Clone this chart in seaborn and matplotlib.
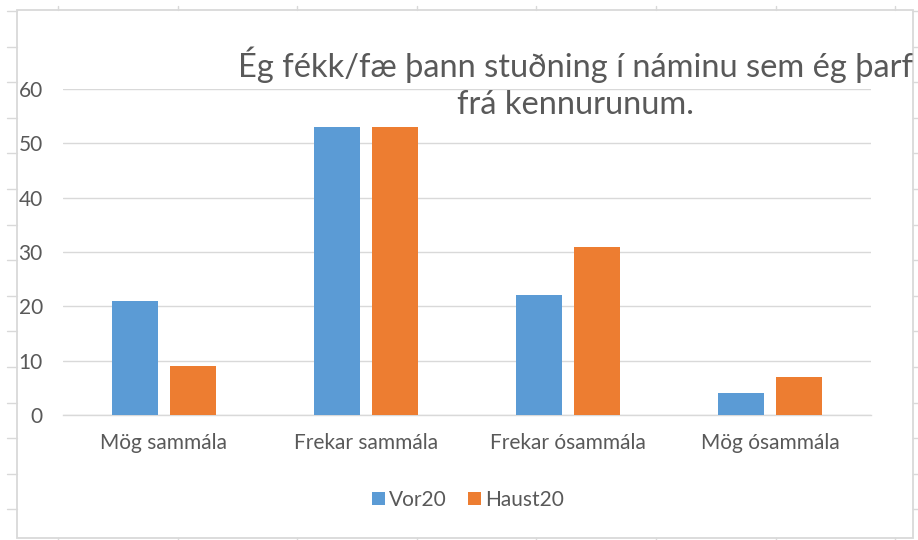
import matplotlib
matplotlib.use("Agg")
import matplotlib.pyplot as plt
from matplotlib.transforms import Bbox, TransformedBbox
from matplotlib.lines import Line2D
from matplotlib.patches import Rectangle
import seaborn as sns
import pandas as pd

categories = ["Mög sammála", "Frekar sammála", "Frekar ósammála", "Mög ósammála"]
series_names = ["Vor20", "Haust20"]
vor20 = [21, 53, 22, 4]
haust20 = [9, 53, 31, 7]
y_ticks = [0, 10, 20, 30, 40, 50, 60]
title = "Ég fékk/fæ þann stuðning í náminu sem ég þarf\nfrá kennurunum."

colors = ["#5B9BD5", "#ED7D31"]
text_color = "#595959"
grid_color = "#D9D9D9"

df = pd.DataFrame({
    "category": categories * 2,
    "series": [series_names[0]] * 4 + [series_names[1]] * 4,
    "value": vor20 + haust20,
})

sns.set_theme(style="white")
plt.rcParams["font.family"] = ["Lato", "DejaVu Sans"]

W, H = 918, 540
fig = plt.figure(figsize=(W / 100, H / 100), dpi=100)
fig.patch.set_facecolor("white")

def fx(px):
    return px / W

def fy(py):
    return 1 - py / H

# spreadsheet frame / cell grid hints
frame_l, frame_t, frame_r, frame_b = 17, 10, 913, 538
fig.add_artist(Rectangle((fx(frame_l), fy(frame_b)), fx(frame_r) - fx(frame_l),
                         fy(frame_t) - fy(frame_b), transform=fig.transFigure,
                         fill=False, edgecolor=grid_color, lw=1.3, zorder=0))
row_y = [11 + 35.6 * k for k in range(15)]
for yy in row_y:
    fig.add_artist(Line2D([fx(7), fx(frame_l)], [fy(yy), fy(yy)], transform=fig.transFigure,
                          color=grid_color, lw=1.0))
    fig.add_artist(Line2D([fx(frame_r), fx(918)], [fy(yy), fy(yy)], transform=fig.transFigure,
                          color=grid_color, lw=1.0))
col_x = [58 + 119.6 * k for k in range(8)]
for xx in col_x:
    fig.add_artist(Line2D([fx(xx), fx(xx)], [fy(6), fy(frame_t)], transform=fig.transFigure,
                          color=grid_color, lw=1.0))
    fig.add_artist(Line2D([fx(xx), fx(xx)], [fy(frame_b), fy(540)], transform=fig.transFigure,
                          color=grid_color, lw=1.0))

ax_l, ax_r, ax_t, ax_b = 63, 871, 89, 415
ax = fig.add_axes([fx(ax_l), fy(ax_b), fx(ax_r) - fx(ax_l), fy(ax_t) - fy(ax_b)])
ax.set_facecolor("none")

sns.barplot(data=df, x="category", y="value", hue="series", order=categories,
            hue_order=series_names, palette=colors, width=0.574, gap=0.223,
            linewidth=0, edgecolor="none", saturation=1, ax=ax, legend=True, zorder=3)

ax.set_xlim(-0.5, len(categories) - 0.5)
ax.set_ylim(0, 60)
ax.set_yticks(y_ticks)
ax.set_yticklabels([str(v) for v in y_ticks])
ax.yaxis.grid(True, color=grid_color, lw=1.0, zorder=0)
ax.set_axisbelow(True)
for s in ["left", "right", "top"]:
    ax.spines[s].set_visible(False)
ax.spines["bottom"].set_color(grid_color)
ax.spines["bottom"].set_linewidth(1.0)
ax.tick_params(axis="y", length=0, pad=14.5, labelsize=15, labelcolor=text_color)
ax.tick_params(axis="x", length=0, pad=13, labelsize=15, labelcolor=text_color)
ax.set_xlabel("")
ax.set_ylabel("")

leg = ax.legend(loc="center", bbox_to_anchor=(fx(468), fy(500)), bbox_transform=fig.transFigure,
                ncol=2, frameon=False, fontsize=15, handlelength=0.62, handleheight=0.62,
                handletextpad=0.2, columnspacing=1.05, borderpad=0)
for t in leg.get_texts():
    t.set_color(text_color)

t = fig.text(fx(575), fy(114), title, ha="center", va="baseline", multialignment="center",
             fontsize=23.5, color=text_color, linespacing=1.3)
clip = TransformedBbox(Bbox([[fx(frame_l), 0], [fx(frame_r), 1]]), fig.transFigure)
t.set_clip_box(clip)
t.set_clip_on(True)

fig.savefig("out.png", dpi=100, facecolor="white")
